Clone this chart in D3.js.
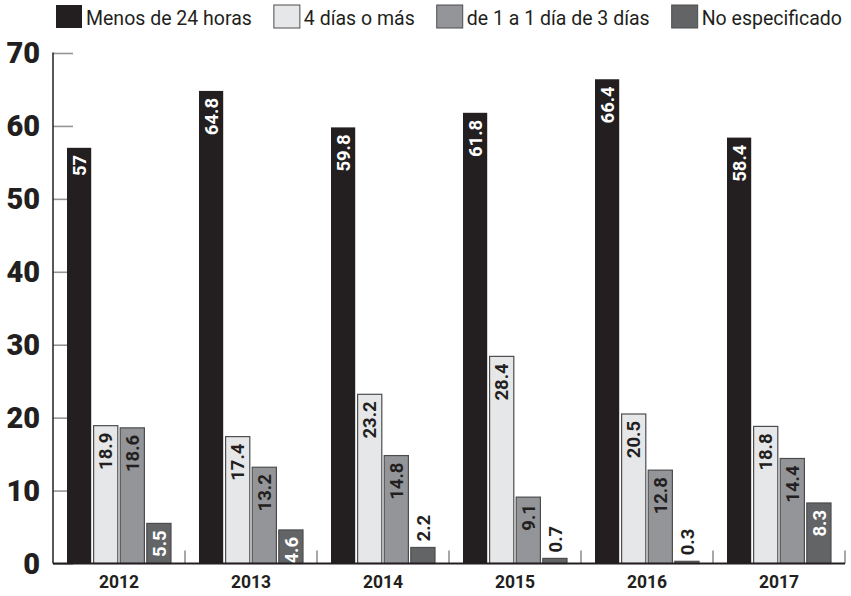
<!DOCTYPE html>
<html>
<head>
<meta charset="utf-8">
<script src="https://cdn.jsdelivr.net/npm/d3@7"></script>
<style>
  html, body { margin: 0; padding: 0; background: #fff; }
  svg { display: block; font-family: Roboto, "Noto Sans", sans-serif; }
</style>
</head>
<body>
<svg id="chart" width="851" height="596"></svg>
<script>
// Years on the x axis
const years = ["2012", "2013", "2014", "2015", "2016", "2017"];

// Series names (legend order)
const seriesNames = ["Menos de 24 horas", "4 días o más", "de 1 a 1 día de 3 días", "No especificado"];

// Percentages per series, one value per year
const menos24 = [57, 64.8, 59.8, 61.8, 66.4, 58.4];
const cuatroDias = [18.9, 17.4, 23.2, 28.4, 20.5, 18.8];
const unoATres = [18.6, 13.2, 14.8, 9.1, 12.8, 14.4];
const noEspecificado = [5.5, 4.6, 2.2, 0.7, 0.3, 8.3];

// Y axis ticks
const yTicks = [0, 10, 20, 30, 40, 50, 60, 70];

const seriesValues = [menos24, cuatroDias, unoATres, noEspecificado];
const fills = ["#231f20", "#e6e7e8", "#939598", "#636466"];
const labelColors = ["#ffffff", "#231f20", "#231f20", "#ffffff"];

const svg = d3.select("#chart");

const x0 = d3.scaleBand().domain(years).range([53, 845]).padding(0);
const x1 = d3.scaleBand().domain(d3.range(4)).range([14, 118]).paddingInner(0.09);
const y = d3.scaleLinear().domain([0, 70]).range([563.5, 53]);

// Short gray ticks inside the plot for each y value
svg.append("g")
  .attr("transform", "translate(53,0)")
  .call(d3.axisRight(y).tickValues(yTicks).tickSize(20).tickFormat(""))
  .call(g => g.select(".domain").remove())
  .call(g => g.selectAll("line").attr("stroke", "#939598").attr("stroke-width", 1.6));

// Y tick labels
svg.append("g")
  .selectAll("text")
  .data(yTicks)
  .join("text")
  .attr("x", 40)
  .attr("y", d => y(d))
  .attr("dy", "0.36em")
  .attr("text-anchor", "end")
  .attr("font-size", 29)
  .attr("font-weight", 900)
  .attr("fill", "#231f20")
  .text(d => d);

// Group separators along the baseline
svg.append("g")
  .selectAll("line")
  .data(years.slice(1).concat(["end"]))
  .join("line")
  .attr("x1", d => d === "end" ? x0.range()[1] : x0(d))
  .attr("x2", d => d === "end" ? x0.range()[1] : x0(d))
  .attr("y1", y(0) - 13)
  .attr("y2", y(0))
  .attr("stroke", "#6d6e71")
  .attr("stroke-width", 1.2);

// Bars
const rows = [];
years.forEach((yr, i) => {
  seriesValues.forEach((vals, s) => rows.push({ year: yr, s, v: vals[i] }));
});

svg.append("g")
  .selectAll("rect")
  .data(rows)
  .join("rect")
  .attr("x", d => x0(d.year) + x1(d.s))
  .attr("y", d => y(d.v))
  .attr("width", x1.bandwidth())
  .attr("height", d => y(0) - y(d.v))
  .attr("fill", d => fills[d.s])
  .attr("stroke", d => d.s === 0 ? "none" : "#4d4d4f")
  .attr("stroke-width", 1.2);

// Value labels, rotated to read bottom-to-top
const insideMin = 4;
svg.append("g")
  .selectAll("text")
  .data(rows)
  .join("text")
  .attr("transform", d => {
    const cx = x0(d.year) + x1(d.s) + x1.bandwidth() / 2;
    const ty = d.v >= insideMin ? y(d.v) + 7 : y(d.v) - 6;
    return `translate(${cx},${ty}) rotate(-90)`;
  })
  .attr("text-anchor", d => d.v >= insideMin ? "end" : "start")
  .attr("dy", "0.36em")
  .attr("font-size", 18.5)
  .attr("font-weight", 700)
  .attr("fill", d => d.v >= insideMin ? labelColors[d.s] : "#231f20")
  .text(d => d.v);

// Axis lines
svg.append("line")
  .attr("x1", 53).attr("x2", 53)
  .attr("y1", y(70) - 0.5).attr("y2", y(0))
  .attr("stroke", "#231f20").attr("stroke-width", 1.5);
svg.append("line")
  .attr("x1", 53).attr("x2", 845)
  .attr("y1", y(0)).attr("y2", y(0))
  .attr("stroke", "#231f20").attr("stroke-width", 1.8);

// Year labels
svg.append("g")
  .selectAll("text")
  .data(years)
  .join("text")
  .attr("x", d => x0(d) + x0.bandwidth() / 2)
  .attr("y", 588)
  .attr("text-anchor", "middle")
  .attr("font-size", 17.5)
  .attr("font-weight", 700)
  .attr("fill", "#231f20")
  .text(d => d);

// Legend
const legend = svg.append("g");
let lx = 56;
seriesNames.forEach((name, s) => {
  legend.append("rect")
    .attr("x", lx).attr("y", 5)
    .attr("width", 26).attr("height", 23)
    .attr("fill", fills[s])
    .attr("stroke", s === 0 ? "none" : "#4d4d4f")
    .attr("stroke-width", 1);
  const t = legend.append("text")
    .attr("x", lx + 30).attr("y", 25)
    .attr("font-size", 19.5)
    .attr("fill", "#231f20")
    .text(name);
  lx += 30 + t.node().getComputedTextLength() + 22;
});
</script>
</body>
</html>
